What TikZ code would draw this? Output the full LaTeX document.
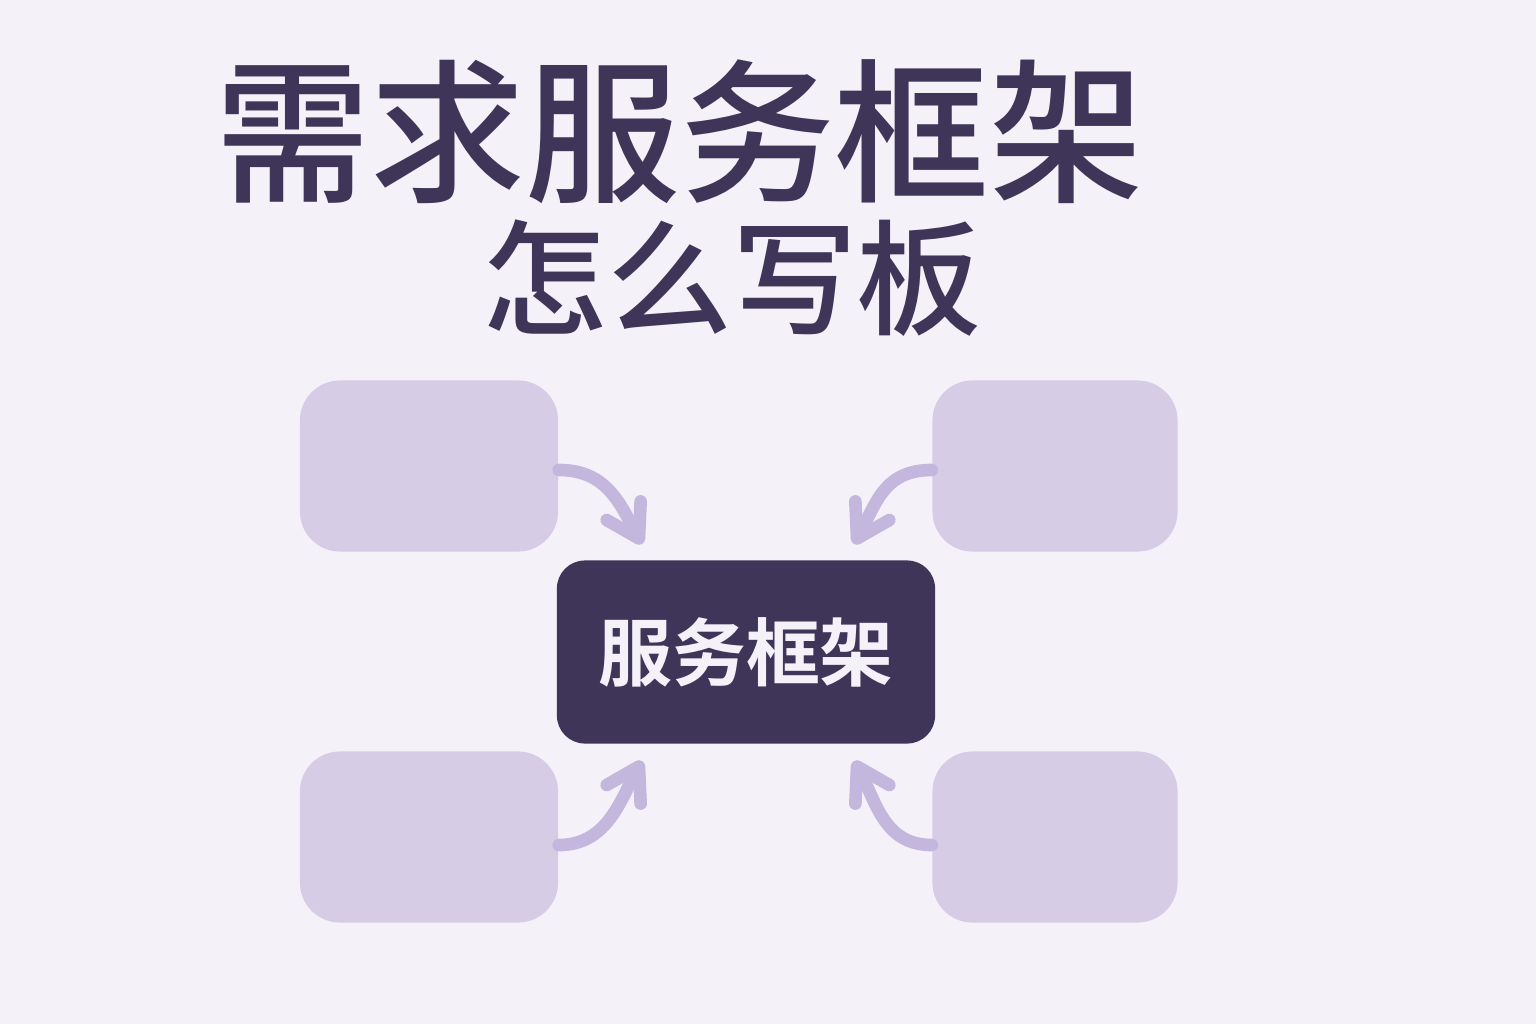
\documentclass[tikz,border=0pt]{standalone}
\usepackage{fontspec}
\newfontfamily\cjk{Noto Sans CJK SC Medium}
\newfontfamily\cjkbold{Noto Sans CJK SC Bold}
\usetikzlibrary{arrows.meta}
\definecolor{bgcol}{HTML}{F5F1F8}
\definecolor{ink}{HTML}{3F3559}
\definecolor{pale}{HTML}{D6CCE6}
\definecolor{arr}{HTML}{C4B7DE}
\begin{document}
\begin{tikzpicture}[x=0.01cm, y=-0.01cm,
  side/.style={fill=pale, rounded corners=0.4cm, minimum height=1.71cm},
  hub/.style={fill=ink, rounded corners=0.28cm, minimum width=3.78cm, minimum height=1.83cm,
              text=bgcol, font=\cjkbold\fontsize{21}{21}\selectfont},
  link/.style={arr, line width=3.6pt, line cap=round,
               -{Straight Barb[length=9pt, width=11pt, line width=3.6pt, round]}}]
\fill[bgcol] (0,0) rectangle (1536,1024);
\useasboundingbox (0,0) rectangle (1536,1024);

\node[ink, font=\cjk\fontsize{44}{44}\selectfont] (title) at (680,132) {需求服务框架};
\node[ink, font=\cjk\fontsize{35.5}{36}\selectfont] (sub) at (732,278) {怎么写板};

\node[side, minimum width=2.58cm] (tl) at (429,466) {};
\node[side, minimum width=2.45cm] (tr) at (1055,466) {};
\node[side, minimum width=2.58cm] (bl) at (429,837) {};
\node[side, minimum width=2.45cm] (br) at (1055,837) {};
\node[hub] (hub) at (746,652) {服务框架};

\coordinate (ptl) at (642,544);
\coordinate (ptr) at (854,544);
\coordinate (pbl) at (642,761);
\coordinate (pbr) at (854,761);

\draw[link] ([yshift=-0.04cm]tl.east) .. controls +(48,0) and +(-22,-40) .. (ptl);
\draw[link] ([yshift=-0.04cm]tr.west) .. controls +(-48,0) and +(22,-40) .. (ptr);
\draw[link] ([yshift=-0.08cm]bl.east) .. controls +(48,0) and +(-22,40) .. (pbl);
\draw[link] ([yshift=-0.08cm]br.west) .. controls +(-48,0) and +(22,40) .. (pbr);
\end{tikzpicture}
\end{document}
